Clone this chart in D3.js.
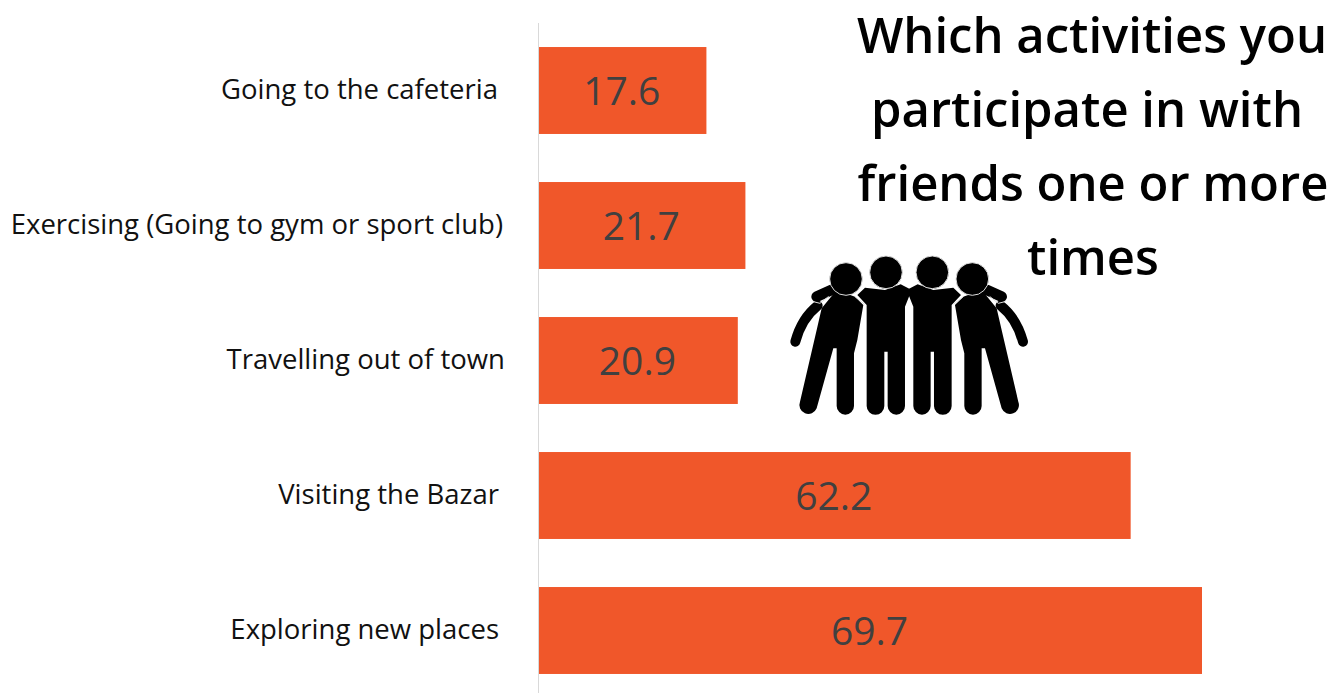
<!DOCTYPE html>
<html>
<head>
<meta charset="utf-8">
<script src="https://cdn.jsdelivr.net/npm/d3@7"></script>
<style>
  html, body { margin: 0; padding: 0; background: #fff; overflow: hidden; }
  text { font-family: "Open Sans", "Noto Sans", sans-serif; }
</style>
</head>
<body>
<div id="chart"></div>
<script>
const activities = ["Going to the cafeteria", "Exercising (Going to gym or sport club)", "Travelling out of town", "Visiting the Bazar", "Exploring new places"];
const percentages = [17.6, 21.7, 20.9, 62.2, 69.7];
const titleLines = ["Which activities you", "participate in with", "friends one or more", "times"];

const width = 1344;
const height = 693;

const svg = d3.select("#chart").append("svg")
    .attr("width", width)
    .attr("height", height)
    .style("display", "block");

const x = d3.scaleLinear().domain([0, 69.7]).range([539, 1202]);
const y = d3.scaleBand().domain(activities).range([23, 698]).paddingInner(0.356).paddingOuter(0.178);

// bars
svg.append("g").selectAll("rect")
    .data(activities)
    .enter().append("rect")
    .attr("x", x(0))
    .attr("y", d => y(d))
    .attr("width", (d, i) => x(percentages[i]) - x(0))
    .attr("height", y.bandwidth())
    .attr("fill", "#f0572a");

// category axis
const labelNudge = [-1, 4, 6, 0, 0];
const axis = svg.append("g")
    .attr("transform", `translate(${x(0)},0)`)
    .call(d3.axisLeft(y).tickSize(0).tickPadding(40));
axis.select(".domain").remove();
axis.selectAll("text")
    .attr("dx", (d, i) => labelNudge[i])
    .attr("fill", "#111")
    .style("font-size", "27.5px");

svg.append("line")
    .attr("x1", x(0) - 0.5).attr("x2", x(0) - 0.5)
    .attr("y1", 23).attr("y2", height)
    .attr("stroke", "#d9d9d9")
    .attr("stroke-width", 1);

// value labels
svg.append("g").selectAll("text")
    .data(activities)
    .enter().append("text")
    .attr("x", (d, i) => (x(0) + x(percentages[i])) / 2 - 1)
    .attr("y", d => y(d) + y.bandwidth() / 2)
    .attr("dy", "0.36em")
    .attr("text-anchor", "middle")
    .attr("fill", "#404040")
    .style("font-size", "39px")
    .text((d, i) => percentages[i]);

// title
const titleNudge = [0, -5, 1, 1];
svg.append("g").selectAll("text")
    .data(titleLines)
    .enter().append("text")
    .attr("x", (d, i) => 1092 + titleNudge[i])
    .attr("y", (d, i) => 53 + i * 74)
    .attr("text-anchor", "middle")
    .attr("fill", "#000")
    .style("font-size", "49px")
    .style("font-weight", 600)
    .text(d => d);

// people icon, drawn at 3x and scaled down
const icon = svg.append("g").attr("transform", "translate(770,240) scale(0.3333)");

function halfGroup(g) {
    const stroke = (d, w, color) => g.append("path").attr("d", d).attr("fill", "none")
        .attr("stroke", color || "#000").attr("stroke-width", w).attr("stroke-linecap", "round");

    // inner person
    g.append("path")
        .attr("d", "M262,165 L285,143 L345,150 L392,133 L425,150 L405,200 L405,498 A26,26 0 0 1 353,498 L353,335 L343,335 L343,498 A26,26 0 0 1 290,498 L290,195 Z")
        .attr("fill", "#000");

    // outer person
    stroke("M143,197 Q95,235 76,305", 30);
    stroke("M140,170 L185,150", 32);
    g.append("path")
        .attr("d", "M155,205 L140,270 L90,485 A26,26 0 0 0 140,505 L190,325 L200,325 L200,498 A26,26 0 0 0 252,498 L252,340 L262,300 L280,195 L255,170 L200,150 Z")
        .attr("fill", "#000");
    stroke("M255,170 L283,192", 3, "#ddd");
    stroke("M130,185 L150,190 L175,170", 3, "#ddd");

    // heads
    [[348, 97], [228, 117]].forEach(h => {
        g.append("circle").attr("cx", h[0]).attr("cy", h[1]).attr("r", 49)
            .attr("fill", "#000").attr("stroke", "#ddd").attr("stroke-width", 3);
    });
}

halfGroup(icon.append("g"));
halfGroup(icon.append("g").attr("transform", "translate(835,0) scale(-1,1)"));
</script>
</body>
</html>
